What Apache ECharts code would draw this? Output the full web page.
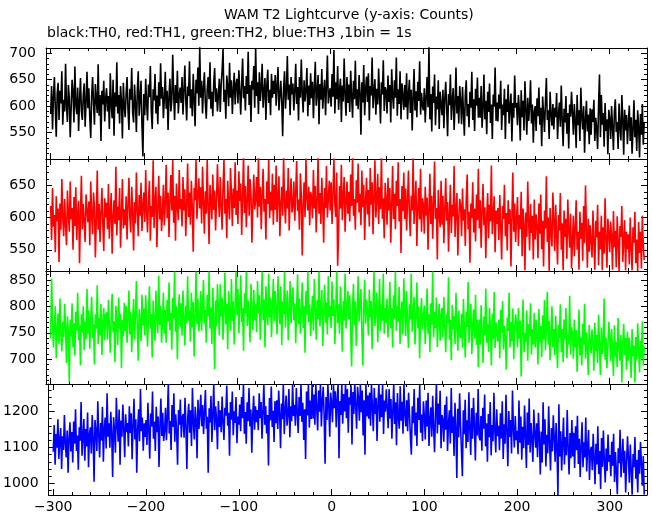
<!DOCTYPE html>
<html><head><meta charset="utf-8">
<script src="https://cdn.jsdelivr.net/npm/echarts@6/dist/echarts.min.js"></script>
<style>html,body{margin:0;padding:0;background:#fff}#c{width:652px;height:515px}</style>
</head><body><div id="c"></div>
<script>
const TITLE = 'WAM T2 Lightcurve (y-axis: Counts)';
const SUBTITLE = 'black:TH0, red:TH1, green:TH2, blue:TH3 ,1bin = 1s';
const T0 = -300;   // time of first bin (s)
const BIN = 1;     // bin width (s)

// TH0 (black) counts per 1 s bin
const th0 = [
585,638,556,617,655,597,542,623,644,574,629,605,666,565,612,590,680,600,570,640,
616,541,596,650,627,569,675,603,585,635,553,611,653,590,574,621,643,561,608,665,
596,634,579,540,619,655,605,565,642,611,587,679,582,621,534,629,603,648,571,614,
634,590,619,557,662,603,577,650,544,626,599,683,586,621,567,638,610,539,644,601,
579,624,655,594,555,633,612,672,588,569,641,606,551,629,666,582,615,648,563,505,
623,583,652,606,573,641,617,676,591,557,632,611,661,586,620,566,645,600,681,614,
636,577,614,665,595,629,555,618,652,590,611,697,624,574,640,606,667,586,621,635,
606,655,584,628,677,613,573,637,619,685,596,632,581,661,615,562,650,624,673,601,
712,616,648,586,635,664,607,576,631,655,613,683,595,627,581,643,672,608,634,590,
620,652,589,640,668,708,608,631,576,658,637,600,682,616,649,585,630,663,603,642,
652,605,668,627,584,643,690,615,638,592,657,623,703,602,640,570,648,631,676,597,
710,619,645,585,664,610,634,680,597,627,653,574,640,669,606,631,583,661,616,648,
623,659,601,638,674,592,620,648,608,543,634,666,595,628,695,612,641,583,655,622,
643,592,629,680,604,636,573,655,616,688,624,588,649,609,631,672,581,639,602,662,
615,646,577,635,684,601,626,659,566,642,612,670,595,628,650,583,638,696,605,623,
634,599,661,618,706,586,645,613,676,593,630,652,570,639,609,690,621,582,655,606,
641,589,667,619,578,648,613,686,601,632,594,659,624,546,645,607,678,583,631,656,
608,662,573,638,620,692,596,628,651,584,633,603,671,617,567,645,622,687,591,636,
629,586,658,608,640,569,670,620,595,649,616,692,582,632,604,666,575,643,621,593,
640,598,662,575,623,650,587,631,554,617,670,592,628,579,646,610,685,584,625,601,
592,634,569,616,655,598,712,575,623,552,637,606,660,564,618,594,649,557,627,603,
583,631,558,615,646,596,543,623,602,660,574,610,634,555,604,673,586,619,567,638,
610,566,636,590,544,622,649,581,604,560,627,597,665,574,613,553,633,601,654,578,
616,578,638,559,596,660,575,610,547,627,589,643,568,603,538,622,599,673,572,607,
571,622,595,648,555,603,583,633,538,613,589,641,567,599,624,533,606,578,658,597,
606,564,621,591,535,630,579,610,554,647,594,546,616,572,599,649,567,603,531,589,
600,553,615,581,635,565,597,524,618,587,551,608,653,574,592,538,627,585,563,604,
556,597,579,625,538,585,607,561,639,574,524,595,569,619,548,587,520,603,580,627,
588,546,604,571,521,621,564,592,534,635,580,556,600,512,575,610,552,584,528,596,
546,594,570,612,534,578,558,519,600,660,541,621,565,587,523,606,553,575,509,593,
575,538,600,560,517,589,613,551,570,519,605,559,535,621,576,508,593,554,583,528,
568,601,534,579,510,557,611,541,574,515,592,562,503,585,546,604,527,570
];

// TH1 (red)
const th1 = [
618,565,646,586,604,546,633,594,614,531,622,581,660,601,571,629,590,557,642,607,
578,656,597,615,550,632,587,647,565,607,626,529,604,665,582,621,594,562,636,611,
593,625,557,656,603,574,639,615,538,598,673,581,621,562,607,646,590,548,630,600,
623,582,652,567,611,638,544,601,627,590,679,572,617,596,646,553,606,660,583,613,
588,633,566,619,662,599,577,648,609,549,624,591,670,612,571,635,603,654,579,620,
639,593,674,608,577,629,657,564,618,601,689,584,625,648,554,615,665,597,634,579,
607,651,588,621,682,599,639,570,627,666,611,690,592,634,564,653,618,596,674,613,
629,586,663,611,644,571,620,684,601,639,589,657,615,547,646,627,690,598,633,661,
614,647,591,679,625,575,641,606,690,617,559,651,629,597,667,612,642,580,626,683,
634,601,663,618,581,649,690,606,629,568,657,621,597,677,638,587,645,615,686,604,
642,590,672,626,653,573,632,697,607,649,585,628,681,603,660,635,561,619,667,613,
628,663,600,695,617,648,582,636,676,609,629,566,656,621,690,599,640,611,668,589,
651,612,681,593,632,664,571,620,648,603,694,627,591,642,614,677,580,633,661,608,
618,656,595,639,688,610,628,581,669,636,541,619,655,601,692,629,611,648,588,640,
632,599,674,614,649,577,626,694,606,638,590,662,620,561,646,615,680,600,630,657,
611,655,590,637,692,621,601,670,525,575,649,614,682,596,633,663,578,625,656,606,
640,594,667,618,695,603,629,581,658,623,684,608,637,588,673,616,651,565,626,662,
605,643,586,677,620,655,574,633,689,600,627,668,590,647,613,696,598,630,568,654,
627,589,662,611,646,561,620,680,598,637,582,657,618,686,594,629,545,649,610,670,
598,645,580,625,673,606,571,634,611,692,590,623,657,556,615,646,597,676,578,630,
621,575,648,603,631,550,612,668,590,634,567,622,687,598,615,535,643,606,585,657,
589,634,560,614,661,595,624,547,607,651,576,620,602,680,570,611,638,541,599,629,
618,571,645,595,613,556,628,667,582,609,530,622,599,655,577,614,563,636,596,676,
583,627,553,609,652,588,616,537,603,638,568,620,594,681,574,605,633,546,611,590,
615,565,635,587,535,618,598,651,571,607,549,627,590,613,524,601,670,578,622,562,
600,632,556,604,582,640,540,614,589,518,608,570,656,594,549,621,576,603,535,628,
566,605,588,537,622,575,636,551,595,524,611,583,664,562,600,517,615,579,555,639,
596,548,620,572,527,604,580,638,550,591,518,611,570,598,536,628,582,553,606,521,
563,603,540,584,627,550,578,519,609,567,592,533,618,560,650,581,522,598,547,588,
585,538,611,562,519,595,569,620,526,578,551,603,518,585,544,630,566,522,598,576,
546,594,571,519,610,554,579,523,602,562,517,587,570,618,531,565,596,518,578,551,
574,527,600,552,518,585,561,609,529,566,517,593,545,578,521,603,558,534
];

// TH2 (green)
const th2 = [
739,853,774,722,762,800,702,756,787,729,815,747,715,771,741,805,761,693,781,751,
657,775,743,806,722,768,707,790,754,826,736,764,688,785,750,800,717,771,738,833,
748,792,720,775,818,740,766,690,785,758,840,729,778,745,805,708,770,797,736,784,
789,737,812,763,712,780,824,751,772,694,801,768,727,817,758,786,683,775,744,807,
753,801,731,776,830,747,790,713,769,814,737,783,848,760,697,795,771,734,822,764,
796,745,821,771,724,790,838,758,785,703,811,769,735,830,778,749,858,765,801,731,
770,826,748,793,731,812,771,845,755,788,718,816,777,866,752,801,700,787,823,761,
806,745,830,779,726,801,768,857,773,792,733,826,760,808,705,783,866,766,815,753,
775,829,754,803,850,767,793,731,822,781,866,758,798,729,835,773,681,811,762,842,
797,745,842,781,817,737,792,864,766,805,719,829,786,754,852,773,809,728,800,866,
783,833,749,803,859,770,797,716,825,787,866,763,811,779,732,843,792,755,831,774,
804,751,848,786,821,737,796,866,774,813,722,838,790,764,862,779,817,742,801,852,
772,829,791,747,857,800,766,838,727,809,785,866,760,799,830,736,790,848,768,813,
836,774,806,730,796,861,766,815,748,790,845,759,801,712,829,784,866,770,804,744,
783,820,754,852,797,737,812,776,866,762,799,831,725,789,841,769,808,747,858,780,
801,759,847,782,813,729,792,866,768,804,748,838,786,714,810,773,862,758,799,829,
776,821,749,686,797,843,764,809,725,788,857,771,802,833,752,688,795,850,767,813,
791,745,832,779,810,719,800,866,763,794,826,732,785,852,754,804,773,862,748,797,
769,815,741,789,846,759,797,722,821,777,866,754,801,771,837,729,788,809,747,853,
795,744,829,769,721,804,775,862,752,787,818,728,779,845,759,800,702,782,816,756,
756,802,729,778,834,748,785,713,806,765,866,741,790,759,817,723,774,805,735,784,
797,741,818,761,713,786,768,855,737,774,698,803,757,782,729,826,764,716,792,745,
740,786,722,814,757,703,790,761,846,731,771,805,710,764,794,739,822,727,775,685,
775,728,802,752,693,781,746,834,731,766,714,797,755,688,786,738,827,721,770,748,
733,775,702,793,750,810,718,763,740,680,779,753,826,722,770,734,796,700,760,785,
766,722,797,739,773,667,754,813,713,750,733,792,697,766,744,806,709,757,728,788,
722,775,744,690,795,732,763,704,783,737,812,717,757,827,728,773,698,748,800,722,
757,708,782,732,683,765,740,804,713,757,694,775,737,797,702,746,728,820,709,761,
749,701,775,722,755,676,734,794,707,741,688,767,728,805,701,751,720,670,765,733,
712,756,729,678,769,716,746,693,784,727,670,760,710,736,815,699,741,683,723,771,
741,696,757,718,668,764,705,733,685,778,724,697,746,656,730,767,708,740,680,752,
697,741,716,665,757,705,726,656,742,699,768,719,675,735,702,772,688,724
];

// TH3 (blue)
const th3 = [
1088,1162,1052,1137,1099,1178,1068,1121,1154,1040,1131,1093,1190,1110,1072,1147,1030,1124,1170,1089,
1143,1058,1172,1110,1206,1090,1133,1038,1156,1119,1226,1077,1128,1179,1063,1151,1103,1197,1045,1136,
1156,1083,1190,1125,1005,1176,1142,1090,1228,1134,1072,1168,1119,1213,1060,1153,1183,1097,1250,1130,
1167,1099,1199,1137,1018,1184,1145,1085,1238,1160,1116,1205,1052,1175,1130,1219,1151,1073,1192,1142,
1168,1103,1214,1140,1195,1067,1160,1235,1122,1178,1030,1151,1206,1117,1262,1145,1183,1091,1167,1129,
1176,1107,1224,1150,1069,1194,1158,1255,1124,1172,1090,1213,1142,1186,1046,1160,1236,1132,1196,1118,
1145,1210,1120,1184,1276,1139,1173,1093,1218,1157,1250,1116,1192,1144,1052,1204,1163,1233,1128,1183,
1193,1127,1238,1161,1040,1185,1221,1141,1203,1104,1265,1170,1122,1213,1176,1070,1232,1151,1194,1246,
1159,1218,1137,1198,1259,1152,1185,1030,1209,1169,1243,1115,1191,1276,1148,1214,1178,1095,1229,1157,
1203,1142,1241,1171,1121,1210,1188,1272,1160,1196,1077,1226,1177,1255,1134,1200,1168,1240,1112,1186,
1163,1219,1145,1240,1181,1276,1138,1198,1110,1225,1173,1265,1158,1205,1085,1187,1243,1149,1214,1170,
1204,1148,1250,1181,1226,1124,1197,1276,1163,1215,1139,1190,1050,1237,1175,1269,1157,1202,1115,1229,
1167,1231,1151,1258,1194,1098,1222,1178,1276,1137,1203,1244,1160,1192,1262,1128,1214,1173,1276,1187,
1218,1160,1265,1198,1140,1240,1187,1276,1171,1224,1121,1206,1068,1255,1189,1276,1155,1230,1179,1276,
1180,1247,1163,1276,1210,1147,1258,1199,1276,1158,1229,1268,1188,1055,1240,1176,1276,1216,1130,1252,
1222,1170,1276,1209,1256,1156,1233,1276,1070,1229,1190,1276,1166,1248,1200,1276,1181,1262,1141,1239,
1219,1272,1108,1254,1193,1276,1215,1152,1268,1236,1174,1276,1198,1258,1133,1231,1080,1276,1186,1245,
1180,1252,1160,1276,1211,1145,1265,1193,1238,1118,1220,1276,1171,1247,1184,1276,1137,1230,1199,1261,
1207,1153,1262,1180,1234,1124,1199,1276,1165,1225,1106,1251,1185,1152,1270,1174,1227,1138,1276,1192,
1158,1231,1145,1252,1193,1127,1080,1214,1167,1262,1133,1197,1104,1238,1176,1273,1141,1191,1118,1228,
1187,1122,1230,1158,1252,1104,1178,1211,1130,1243,1156,1087,1196,1276,1139,1222,1163,1257,1098,1190,
1176,1116,1218,1149,1241,1090,1166,1203,1111,1265,1140,1186,1076,1224,1155,1015,1207,1128,1250,1163,
1168,1020,1203,1137,1232,1098,1175,1115,1253,1152,1079,1209,1124,1238,1161,1064,1196,1133,1262,1130,
1120,1187,1091,1210,1152,1247,1103,1167,1060,1193,1128,1226,1078,1162,1117,1252,1145,1086,1206,1131,
1160,1092,1195,1125,1228,1068,1164,1110,1246,1142,1048,1201,1129,1176,1083,1258,1151,1100,1187,1120,
1146,1081,1230,1113,1186,1066,1157,1098,1216,1131,1043,1197,1107,1236,1086,1168,1120,1060,1205,1139,
1099,1167,1073,1196,1127,1025,1144,1058,1225,1108,1178,1047,1135,1084,1214,1113,1036,1154,1089,1189,
1126,1060,1168,1095,968,1220,1075,1145,1036,1112,1183,1053,1129,1078,1204,1097,1025,1140,1070,1176,
1075,1141,1043,1159,1092,1188,1054,1124,1018,1106,1170,1045,1114,1072,1183,1033,1099,1148,1010,1091,
1102,1037,1138,1071,998,1110,1053,1159,1026,1090,985,1126,1046,1147,1064,1003,1097,1035,1136,1060,
1079,1020,1116,1049,1138,1004,1087,1033,970,1098,1056,1149,1017,1071,1124,1029,1091,975,1058,1131,
1068,1002,1108,1036,969,1082,1045,1129,1013,1066,975,1093,1027,1115,1054,994,1076,969
];

const SERIES = [th0, th1, th2, th3];
const NAMES = ['TH0', 'TH1', 'TH2', 'TH3'];

// ---- layout / style (not data) ----
const FONT = 'DejaVu Sans';
const COLORS = ['#000000', '#ff0000', '#00ff00', '#0000ff'];
const Y_RANGES = [[500, 710], [517, 691], [653, 867], [968, 1276]];
const X_RANGE = [-305, 340];
const TOPS = [48, 159, 271, 384];
const HEIGHTS = [111, 112, 113, 111];
const fmt = v => String(v).replace('-', '\u2212');

const grid = [], xAxis = [], yAxis = [], series = [];
for (let i = 0; i < 4; i++) {
  grid.push({ left: 46, right: 5, top: TOPS[i], height: HEIGHTS[i], containLabel: false });
  const common = {
    type: 'value', gridIndex: i,
    axisLine: { show: true, onZero: false, lineStyle: { color: '#000', width: 1 } },
    axisTick: { show: true, inside: true, length: 6, lineStyle: { color: '#000', width: 1 } },
    minorTick: { show: true, splitNumber: 5, length: 3, lineStyle: { color: '#000', width: 1 } },
    splitLine: { show: false }, minorSplitLine: { show: false }
  };
  const xc = Object.assign({}, common, { min: X_RANGE[0], max: X_RANGE[1], splitNumber: 6 });
  xAxis.push(Object.assign({}, xc, {
    position: 'bottom',
    axisLabel: { show: i === 3, showMinLabel: false, showMaxLabel: false, margin: 5,
      color: '#000', fontFamily: FONT, fontSize: 14, formatter: fmt }
  }));
  xAxis.push(Object.assign({}, xc, { position: 'top', axisLabel: { show: false } }));
  const yc = Object.assign({}, common, { min: Y_RANGES[i][0], max: Y_RANGES[i][1], splitNumber: 4, scale: true });
  yAxis.push(Object.assign({}, yc, {
    position: 'left',
    axisLabel: { show: true, showMinLabel: false, showMaxLabel: false, margin: 10,
      color: '#000', fontFamily: FONT, fontSize: 14, formatter: fmt }
  }));
  yAxis.push(Object.assign({}, yc, { position: 'right', axisLabel: { show: false } }));
  series.push({
    name: NAMES[i], type: 'line', xAxisIndex: 2 * i, yAxisIndex: 2 * i,
    data: SERIES[i].map((v, k) => [T0 + k * BIN, v]),
    showSymbol: false, symbol: 'none', sampling: null, silent: true,
    lineStyle: { color: COLORS[i], width: 1.6 }, itemStyle: { color: COLORS[i] },
    emphasis: { disabled: true }, clip: true
  });
}

const chart = echarts.init(document.getElementById('c'), null, { renderer: 'canvas' });
chart.setOption({
  animation: false,
  backgroundColor: '#fff',
  title: [
    { text: TITLE, left: 224, top: 8, padding: 0,
      textStyle: { fontFamily: FONT, fontSize: 14, fontWeight: 'normal', color: '#000' } },
    { text: SUBTITLE, left: 47, top: 26, padding: 0,
      textStyle: { fontFamily: FONT, fontSize: 14, fontWeight: 'normal', color: '#000' } }
  ],
  grid, xAxis, yAxis, series
});
</script>
</body></html>
